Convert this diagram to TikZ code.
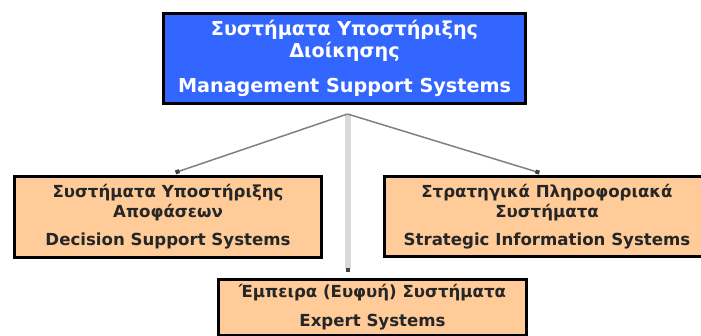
\documentclass[tikz,border=0pt]{standalone}
\usepackage{fontspec}
\setmainfont{DejaVu Sans}
\usetikzlibrary{arrows.meta}
\definecolor{mssblue}{HTML}{3366FF}
\definecolor{peach}{HTML}{FFCC99}
\definecolor{linkgray}{HTML}{808080}
\definecolor{trunkgray}{HTML}{D9D9D9}
\begin{document}
\begin{tikzpicture}[x=1pt,y=1pt,
  sysbox/.style={draw=black,line width=3pt,align=center,inner sep=0pt},
  mainbox/.style={sysbox,fill=mssblue,text=white,font=\bfseries\fontsize{19.2}{21.5}\selectfont},
  subbox/.style={sysbox,fill=peach,text=black!85,font=\bfseries\fontsize{16.6}{20}\selectfont},
  link/.style={draw=linkgray,line width=1.5pt,shorten >=8pt,-{Square[length=4pt,width=4pt,color=black!75]}},
  trunk/.style={draw=trunkgray,line width=6pt,shorten >=6pt,-{Square[length=4pt,width=4pt,color=black!75]}}]
\useasboundingbox (0,0) rectangle (701,336);
% systems
\node[mainbox,minimum width=362pt,minimum height=90pt] (mss) at (344.5,277.5)
  {Συστήματα Υποστήριξης\\Διοίκησης\\[14pt]Management Support Systems};
\node[subbox,minimum width=307pt,minimum height=81pt] (dss) at (168,119)
  {Συστήματα Υποστήριξης\\Αποφάσεων\\[8pt]Decision Support Systems};
\node[subbox,minimum width=325pt,minimum height=80pt] (sis) at (547,119.5)
  {Στρατηγικά Πληροφοριακά\\Συστήματα\\[8pt]Strategic Information Systems};
\node[subbox,minimum width=308pt,minimum height=56pt] (es) at (372.5,28.5)
  {Έμπειρα (Ευφυή) Συστήματα\\[9pt]Expert Systems};
% links
\coordinate (hub) at (347.5,222);
\draw[trunk] (hub) -- (hub |- es.north);
\draw[link] (hub) -- (dss.north);
\draw[link] (hub) -- (sis.north);
\end{tikzpicture}
\end{document}
